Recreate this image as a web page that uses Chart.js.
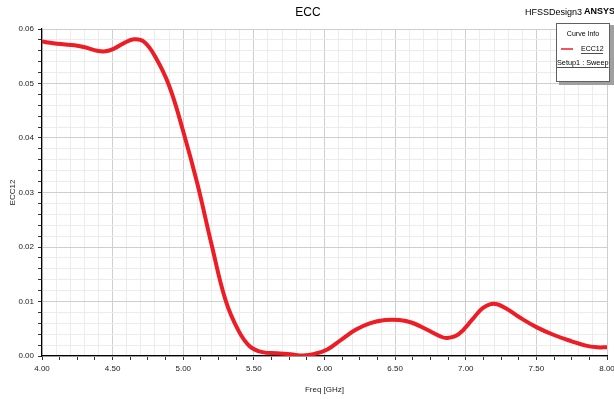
<!DOCTYPE html>
<html>
<head>
<meta charset="utf-8">
<script src="https://cdn.jsdelivr.net/npm/chart.js@4/dist/chart.umd.min.js"></script>
<style>
  html, body { margin: 0; padding: 0; background: #fff; }
  #ecc { display: block; }
</style>
</head>
<body>
<canvas id="ecc" width="614" height="399"></canvas>
<script>
// values
const freq = [4.00, 4.08, 4.15, 4.23, 4.31, 4.39, 4.45, 4.51, 4.58, 4.65, 4.72, 4.80, 4.90, 5.00, 5.10, 5.20, 5.30, 5.39, 5.47, 5.56, 5.66, 5.76, 5.85, 5.93, 6.02, 6.12, 6.22, 6.32, 6.43, 6.53, 6.62, 6.72, 6.82, 6.87, 6.95, 7.05, 7.12, 7.20, 7.28, 7.38, 7.50, 7.62, 7.75, 7.85, 7.93, 8.00];
const ecc12 = [0.0577, 0.0574, 0.0572, 0.0570, 0.0566, 0.0560, 0.0559, 0.0564, 0.0574, 0.0581, 0.0577, 0.0550, 0.0496, 0.0412, 0.0316, 0.0205, 0.0102, 0.0047, 0.0018, 0.0007, 0.0005, 0.0003, 0.0001, 0.0004, 0.0012, 0.0030, 0.0048, 0.0060, 0.0066, 0.0066, 0.0061, 0.0049, 0.0036, 0.0033, 0.0040, 0.0068, 0.0088, 0.0096, 0.0088, 0.0071, 0.0053, 0.0039, 0.0027, 0.0019, 0.0016, 0.0016];
const xTickLabels = ['4.00', '4.50', '5.00', '5.50', '6.00', '6.50', '7.00', '7.50', '8.00'];
const yTickLabels = ['0.00', '0.01', '0.02', '0.03', '0.04', '0.05', '0.06'];

const isMult = (v, step) => Math.abs(v / step - Math.round(v / step)) < 1e-6;
const font = '"Liberation Sans", Arial, sans-serif';

const overlay = {
    id: 'overlay',
    afterDraw(chart) {
        const c = chart.ctx;
        c.save();
        c.fillStyle = '#000';
        c.textBaseline = 'middle';
        c.textAlign = 'center';
        c.font = '12px ' + font;
        c.fillText('ECC', 308, 13);
        c.textAlign = 'left';
        c.font = '9px ' + font;
        c.fillText('HFSSDesign3', 525, 13);
        c.font = 'bold 9px ' + font;
        c.fillText('ANSYS', 584, 12);

        // curve info box
        c.fillStyle = '#a0a0a0';
        c.fillRect(610, 25, 4, 60);
        c.fillRect(559, 82, 55, 3);
        c.fillStyle = '#fff';
        c.fillRect(556, 23, 54, 59);
        c.strokeStyle = '#606060';
        c.lineWidth = 1;
        c.strokeRect(556.5, 23.5, 53, 58);
        c.fillStyle = '#000';
        c.font = '7px ' + font;
        c.textAlign = 'center';
        c.fillText('Curve Info', 583, 34);
        c.strokeStyle = '#ee1c25';
        c.lineWidth = 1.5;
        c.beginPath();
        c.moveTo(561, 49);
        c.lineTo(573, 49);
        c.stroke();
        c.textAlign = 'left';
        c.fillText('ECC12', 581, 49);
        c.font = '7.3px ' + font;
        c.fillText('Setup1 : Sweep', 557, 63);
        c.strokeStyle = '#000';
        c.lineWidth = 0.7;
        c.beginPath();
        c.moveTo(581, 53.5); c.lineTo(603, 53.5);
        c.moveTo(557, 67.5); c.lineTo(557 + c.measureText('Setup1 : Sweep').width, 67.5);
        c.stroke();
        c.restore();
    }
};

new Chart(document.getElementById('ecc'), {
    type: 'line',
    data: {
        datasets: [{
            label: 'ECC12',
            data: freq.map((f, i) => ({ x: f, y: ecc12[i] })),
            borderColor: '#ee1c25',
            borderWidth: 4,
            pointRadius: 0,
            tension: 0.4,
            fill: false
        }]
    },
    options: {
        responsive: false,
        animation: false,
        layout: { padding: { top: 29, right: 7, left: 0, bottom: 0 } },
        plugins: {
            legend: { display: false },
            title: { display: false },
            tooltip: { enabled: false }
        },
        scales: {
            x: {
                type: 'linear',
                min: 4,
                max: 8,
                afterFit: s => { s.height = 43; s.paddingLeft = 0; s.paddingRight = 0; },
                border: { color: '#000', width: 1.2 },
                grid: {
                    color: ctx => isMult(ctx.tick.value, 0.5) ? '#cfcfcf' : (isMult(ctx.tick.value, 0.1) ? '#ececec' : 'rgba(0,0,0,0)'),
                    tickColor: ctx => isMult(ctx.tick.value, 0.125) ? '#333' : 'rgba(0,0,0,0)',
                    tickLength: 4,
                    lineWidth: 1
                },
                ticks: {
                    stepSize: 0.025,
                    autoSkip: false,
                    maxRotation: 0,
                    padding: 4,
                    color: '#222',
                    font: { family: font, size: 8 },
                    callback: v => isMult(v, 0.5) ? xTickLabels[Math.round((v - 4) / 0.5)] : ''
                },
                title: {
                    display: true,
                    text: 'Freq [GHz]',
                    color: '#222',
                    font: { family: font, size: 8 },
                    padding: { top: 6 }
                }
            },
            y: {
                min: 0,
                max: 0.06,
                afterFit: s => { s.width = 42; },
                border: { color: '#000', width: 1.2 },
                grid: {
                    color: ctx => isMult(ctx.tick.value, 0.01) ? '#cfcfcf' : '#ececec',
                    tickColor: '#333',
                    tickLength: 4,
                    lineWidth: 1
                },
                ticks: {
                    stepSize: 0.002,
                    autoSkip: false,
                    padding: 4,
                    color: '#222',
                    font: { family: font, size: 8 },
                    callback: v => isMult(v, 0.01) ? yTickLabels[Math.round(v / 0.01)] : ''
                },
                title: {
                    display: true,
                    text: 'ECC12',
                    color: '#222',
                    font: { family: font, size: 8 },
                    padding: { top: 8, bottom: 0 }
                }
            }
        }
    },
    plugins: [overlay]
});
</script>
</body>
</html>
